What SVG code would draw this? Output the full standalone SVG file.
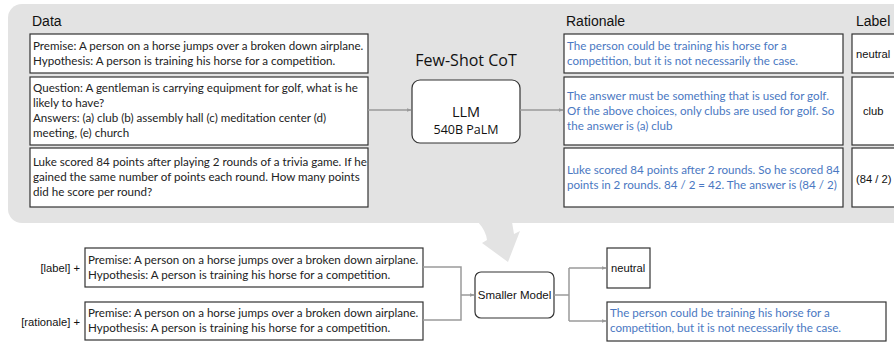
<svg xmlns="http://www.w3.org/2000/svg" width="894" height="344" viewBox="0 0 894 344">
<defs>
<style>
.box{fill:#fff;stroke:#333;stroke-width:1.2}
.rbox{fill:#fff;stroke:#333;stroke-width:1.2}
.av{font-family:Lato,"Noto Sans",sans-serif;font-size:11.6px;fill:#222}
.blue{fill:#4a78c2}
.hv{font-family:"Liberation Sans",Arial,sans-serif;fill:#111}
.hd{font-size:14px}
.sm{font-size:11.2px}
.op{font-family:"Open Sans",sans-serif;fill:#111}
.conn{fill:none;stroke:#9a9a9a;stroke-width:1.5}
</style>
<marker id="ah" viewBox="0 0 10 10" refX="9" refY="5" markerWidth="5" markerHeight="5" orient="auto" markerUnits="userSpaceOnUse">
<path d="M0,1 L10,5 L0,9 Z" fill="#9a9a9a"/>
</marker>
</defs>
<rect x="0" y="0" width="894" height="344" fill="#fff"/>
<g id="panel">
<rect x="8" y="4" width="900" height="219" rx="14" fill="#e3e3e3"/>
<path d="M478 222 Q486 231 487 240 L482 243 L508 262 L520 231 L514 234 Q513 228 512 222 Z" fill="#e3e3e3"/>
<text class="hv hd" x="32" y="26">Data</text>
<text class="hv hd" x="566" y="26">Rationale</text>
<text class="hv hd" x="856" y="26">Label</text>
</g>
<g id="data1">
<rect class="box" x="30" y="34" width="338" height="39"/>
<text class="av" x="33" y="50">Premise: A person on a horse jumps over a broken down airplane.</text>
<text class="av" x="33" y="65">Hypothesis: A person is training his horse for a competition.</text>
</g>
<g id="data2">
<rect class="box" x="30" y="77" width="338" height="68"/>
<text class="av" x="33" y="92">Question: A gentleman is carrying equipment for golf, what is he</text>
<text class="av" x="33" y="107">likely to have?</text>
<text class="av" x="33" y="122">Answers: (a) club (b) assembly hall (c) meditation center (d)</text>
<text class="av" x="33" y="137">meeting, (e) church</text>
</g>
<g id="data3">
<rect class="box" x="30" y="148" width="338" height="59"/>
<text class="av" x="33" y="166">Luke scored 84 points after playing 2 rounds of a trivia game. If he</text>
<text class="av" x="33" y="181">gained the same number of points each round. How many points</text>
<text class="av" x="33" y="196">did he score per round?</text>
</g>
<g id="llm">
<text class="op" x="466" y="66" font-size="16" text-anchor="middle">Few-Shot CoT</text>
<rect class="rbox" x="412" y="80" width="108" height="63" rx="8"/>
<text class="op" x="466" y="117" font-size="14.5" text-anchor="middle">LLM</text>
<text class="op" x="466" y="134" font-size="12.5" text-anchor="middle">540B PaLM</text>
</g>
<g id="rat1">
<rect class="box" x="564" y="34" width="279" height="39"/>
<text class="av blue" x="567" y="50">The person could be training his horse for a</text>
<text class="av blue" x="567" y="65">competition, but it is not necessarily the case.</text>
</g>
<g id="rat2">
<rect class="box" x="564" y="77" width="279" height="68"/>
<text class="av blue" x="567" y="100">The answer must be something that is used for golf.</text>
<text class="av blue" x="567" y="115">Of the above choices, only clubs are used for golf. So</text>
<text class="av blue" x="567" y="130">the answer is (a) club</text>
</g>
<g id="rat3">
<rect class="box" x="564" y="148" width="279" height="59"/>
<text class="av blue" x="567" y="174">Luke scored 84 points after 2 rounds. So he scored 84</text>
<text class="av blue" x="567" y="189">points in 2 rounds. 84 / 2 = 42. The answer is (84 / 2)</text>
</g>
<g id="lab1">
<rect class="box" x="852" y="34" width="60" height="39"/>
<text class="hv sm" x="856" y="58">neutral</text>
</g>
<g id="lab2">
<rect class="box" x="852" y="77" width="60" height="68"/>
<text class="hv sm" x="863" y="115">club</text>
</g>
<g id="lab3">
<rect class="box" x="852" y="148" width="60" height="59"/>
<text class="hv sm" x="856" y="183">(84 / 2)</text>
</g>
<g id="in1">
<text class="hv sm" x="80" y="272" text-anchor="end">[label] +</text>
<rect class="box" x="85" y="248" width="338" height="39"/>
<text class="av" x="88" y="264">Premise: A person on a horse jumps over a broken down airplane.</text>
<text class="av" x="88" y="279">Hypothesis: A person is training his horse for a competition.</text>
</g>
<g id="in2">
<text class="hv sm" x="80" y="326" text-anchor="end">[rationale] +</text>
<rect class="box" x="85" y="302" width="338" height="38"/>
<text class="av" x="88" y="317">Premise: A person on a horse jumps over a broken down airplane.</text>
<text class="av" x="88" y="332">Hypothesis: A person is training his horse for a competition.</text>
</g>
<g id="small">
<rect class="rbox" x="475" y="272" width="79" height="46" rx="6"/>
<text class="hv" x="514.5" y="299" font-size="11.5" text-anchor="middle">Smaller Model</text>
</g>
<g id="out1">
<rect class="box" x="607" y="248" width="43" height="40"/>
<text class="hv sm" x="611" y="272">neutral</text>
</g>
<g id="out2">
<rect class="box" x="607" y="302" width="279" height="39"/>
<text class="av blue" x="610" y="317">The person could be training his horse for a</text>
<text class="av blue" x="610" y="332">competition, but it is not necessarily the case.</text>
</g>
<g id="connectors">
<path class="conn" d="M368 110 H411" marker-end="url(#ah)"/>
<path class="conn" d="M520 110 H563" marker-end="url(#ah)"/>
<path class="conn" d="M423 267 H461 V320 H423"/>
<path class="conn" d="M461 295 H474" marker-end="url(#ah)"/>
<path class="conn" d="M554 295 H569"/>
<path class="conn" d="M569 268 V321"/>
<path class="conn" d="M569 268 H606" marker-end="url(#ah)"/>
<path class="conn" d="M569 321 H606" marker-end="url(#ah)"/>
</g>
</svg>
